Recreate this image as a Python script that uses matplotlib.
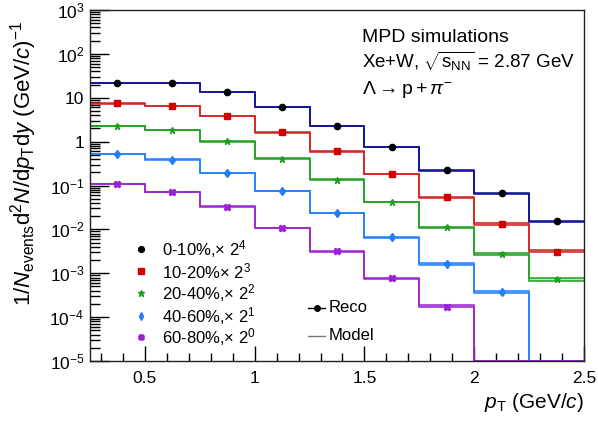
import numpy as np
import matplotlib.pyplot as plt
from matplotlib.ticker import FuncFormatter, LogLocator, MultipleLocator

plt.rcParams['font.family'] = ['Liberation Sans', 'DejaVu Sans']
plt.rcParams['mathtext.fontset'] = 'custom'
plt.rcParams['mathtext.rm'] = 'Liberation Sans'
plt.rcParams['mathtext.it'] = 'Liberation Sans:italic'
plt.rcParams['mathtext.sf'] = 'Liberation Sans'

# pT bin edges (GeV/c)
edges = np.arange(0.25, 2.51, 0.25)
centers = 0.5 * (edges[:-1] + edges[1:])

labels = [r'0-10%,$\times$ 2$^4$', r'10-20%$\times$ 2$^3$', r'20-40%,$\times$ 2$^2$',
          r'40-60%,$\times$ 2$^1$', r'60-80%,$\times$ 2$^0$']

# reconstructed spectra (scaled); 0 = empty bin
reco_0_10 = [21.8, 21.5, 13.6, 6.2, 2.27, 0.75, 0.22, 0.067, 0.0153]
reco_10_20 = [7.4, 6.5, 3.8, 1.63, 0.60, 0.185, 0.054, 0.0133, 0.0031]
reco_20_40 = [2.27, 1.84, 1.01, 0.41, 0.137, 0.042, 0.0112, 0.00274, 0.00074]
reco_40_60 = [0.53, 0.39, 0.195, 0.074, 0.0233, 0.0066, 0.00162, 0.000378, 0]
reco_60_80 = [0.109, 0.0705, 0.033, 0.0108, 0.00316, 0.00076, 0.00017, 0, 0]

# model spectra
model_0_10 = [21.8, 21.5, 13.6, 6.2, 2.27, 0.75, 0.22, 0.067, 0.0153]
model_10_20 = [7.4, 6.5, 3.8, 1.63, 0.60, 0.185, 0.054, 0.0133, 0.0032]
model_20_40 = [2.27, 1.84, 1.01, 0.41, 0.137, 0.042, 0.0112, 0.00274, 0.00071]
model_40_60 = [0.53, 0.39, 0.195, 0.074, 0.0233, 0.0066, 0.00162, 0.000378, 0]
model_60_80 = [0.109, 0.0705, 0.033, 0.0108, 0.00316, 0.00076, 0.00018, 0, 0]

# relative model uncertainty (band width)
model_err_0_10 = [0.01, 0.01, 0.01, 0.01, 0.01, 0.01, 0.01, 0.02, 0.03]
model_err_10_20 = [0.01, 0.01, 0.01, 0.01, 0.01, 0.01, 0.02, 0.03, 0.06]
model_err_20_40 = [0.01, 0.01, 0.01, 0.01, 0.01, 0.01, 0.02, 0.03, 0.08]
model_err_40_60 = [0.01, 0.01, 0.01, 0.01, 0.01, 0.02, 0.03, 0.04, 0]
model_err_60_80 = [0.01, 0.01, 0.01, 0.01, 0.02, 0.03, 0.07, 0, 0]

reco = [reco_0_10, reco_10_20, reco_20_40, reco_40_60, reco_60_80]
model = [model_0_10, model_10_20, model_20_40, model_40_60, model_60_80]
model_err = [model_err_0_10, model_err_10_20, model_err_20_40, model_err_40_60, model_err_60_80]

line_colors = ['#0a0a99', '#d42020', '#1f9f1f', '#1f7fff', '#9d1fd4']
marker_colors = ['black', '#d40000', '#1f9f1f', '#1f7fff', '#9d1fd4']
markers = ['o', 's', '*', 'd', 'X']
msizes = [4.5, 4.3, 5, 4.5, 4.5]

ymin, ymax = 1e-5, 1e3
W, H = 598, 421

fig = plt.figure(figsize=(W / 100, H / 100), dpi=100)
ax = fig.add_axes([90 / W, 1 - 361 / H, 494 / W, 351 / H])

for i in range(5):
    m = np.clip(np.array(model[i]), ymin, None)
    e = np.array(model_err[i])
    hi = m * (1 + e)
    lo = np.clip(m * (1 - e), ymin, None)
    ax.stairs(hi, edges, baseline=None, color=line_colors[i], lw=1.1, zorder=2)
    ax.stairs(lo, edges, baseline=None, color=line_colors[i], lw=1.1, zorder=2)
    ax.stairs(hi, edges, baseline=lo, fill=True, color=line_colors[i], alpha=0.3, lw=0, zorder=1)
    r = np.array(reco[i], dtype=float)
    ok = r > 0
    ax.plot(centers[ok], r[ok], ls='none', marker=markers[i], ms=msizes[i],
            color=marker_colors[i], mec=marker_colors[i], zorder=3)

ax.set_yscale('log')
ax.set_xlim(0.25, 2.5)
ax.set_ylim(ymin, ymax)

def ylab(v, pos):
    if np.isclose(v, 1):
        return '1'
    if np.isclose(v, 10):
        return '10'
    return r'10$^{%d}$' % int(round(np.log10(v)))

ax.yaxis.set_major_locator(LogLocator(base=10, numticks=20))
ax.yaxis.set_minor_locator(LogLocator(base=10, subs=np.arange(2, 10), numticks=20))
ax.yaxis.set_major_formatter(FuncFormatter(ylab))
ax.xaxis.set_major_locator(MultipleLocator(0.5))
ax.xaxis.set_minor_locator(MultipleLocator(0.1))
ax.xaxis.set_major_formatter(FuncFormatter(lambda v, p: '%g' % v))
ax.tick_params(which='both', direction='in', top=False, right=False, labelsize=12.5)
ax.tick_params(axis='y', which='major', length=14, width=1, pad=4)
ax.tick_params(axis='y', which='minor', length=7, width=1)
ax.tick_params(axis='x', which='major', length=11, width=1, pad=7)
ax.tick_params(axis='x', which='minor', length=5.5, width=1)
for s in ax.spines.values():
    s.set_linewidth(1)
    s.set_color('#222222')

ax.set_xlabel(r'$p_{\rm T}$ (GeV/$c$)', fontsize=15, loc='right')
ax.set_ylabel(r'1/$N_{\rm events}$d$^2$$N$/d$p_{\rm T}$d$y$ (GeV/$c$)$^{-1}$', fontsize=16, loc='top')
ax.xaxis.set_label_coords(1.0, -0.085)
ax.yaxis.set_label_coords(-0.103, 0.97)

# text placed in pixel coordinates (y from top)
def ptext(x, y, s, **kw):
    fig.text(x / W, 1 - y / H, s, va='baseline', ha='left', **kw)

ptext(362, 42, 'MPD simulations', fontsize=14)
ptext(362, 68, r'Xe+W, $\sqrt{\mathrm{s}_{\mathrm{NN}}}$ = 2.87 GeV', fontsize=13.5)
ptext(362, 94, r'$\Lambda\rightarrow{\rm p}+\pi^{-}$', fontsize=14)

def pmark(x, y, **kw):
    fig.add_artist(plt.Line2D([x / W], [1 - y / H], transform=fig.transFigure, **kw))

# centrality legend
leg_rows = [249, 271, 293, 316, 337]
for i in range(5):
    pmark(141, leg_rows[i], ls='none', marker=markers[i], ms=msizes[i] - 0.3,
          color=marker_colors[i])
    fig.text(162 / W, 1 - leg_rows[i] / H, labels[i], va='center', ha='left', fontsize=12)

# reco / model legend
fig.add_artist(plt.Line2D([308 / W, 325 / W], [1 - 308 / H] * 2, transform=fig.transFigure,
                          color='black', lw=1))
pmark(316.5, 308, ls='none', marker='o', ms=4, color='black')
fig.text(329 / W, 1 - 308 / H, 'Reco', va='center', ha='left', fontsize=12)
fig.add_artist(plt.Line2D([308 / W, 325 / W], [1 - 336 / H] * 2, transform=fig.transFigure,
                          color='#777777', lw=1))
fig.text(329 / W, 1 - 336 / H, 'Model', va='center', ha='left', fontsize=12)

fig.savefig('out.png', dpi=100)
